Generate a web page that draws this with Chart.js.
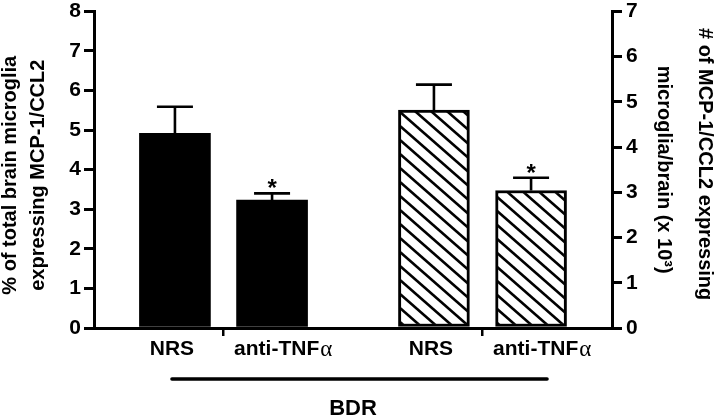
<!DOCTYPE html>
<html>
<head>
<meta charset="utf-8">
<script src="https://cdn.jsdelivr.net/npm/chart.js"></script>
<style>
  html, body { margin: 0; padding: 0; background: #fff; }
  #wrap { width: 720px; height: 418px; position: relative; }
</style>
</head>
<body>
<div id="wrap"><canvas id="chart"></canvas></div>
<script>
// treatment groups (both under the BDR bracket)
const groupLabels = ['NRS', 'anti-TNFα'];
// left axis: % of total brain microglia expressing MCP-1/CCL2
const pctValues = [4.92, 3.23];
const pctErrors = [0.67, 0.17];
// right axis: # of MCP-1/CCL2 expressing microglia/brain (x 10^3)
const countValues = [4.82, 3.04];
const countErrors = [0.56, 0.28];
const significant = [false, true];
const pctAxisMax = 8;
const countAxisMax = 7;

// x axis is split in equal slots, the bars sit in some of them
const slotCount = 16;
const pctSlots = [2, 5];
const countSlots = [10, 13];

const FONT = '"Liberation Sans", Arial, sans-serif';

function toSlots(values, slots) {
    const out = new Array(slotCount).fill(null);
    slots.forEach((s, i) => { out[s] = values[i]; });
    return out;
}

const slotLabels = new Array(slotCount).fill('');
pctSlots.forEach((s, i) => { slotLabels[s] = groupLabels[i]; });
countSlots.forEach((s, i) => { slotLabels[s] = groupLabels[i]; });

// diagonal hatch for the second series
function makeHatch() {
    const w = 16, h = 14;
    const c = document.createElement('canvas');
    c.width = w; c.height = h;
    const g = c.getContext('2d');
    g.fillStyle = '#fff';
    g.fillRect(0, 0, w, h);
    g.strokeStyle = '#000';
    g.lineWidth = 2.6;
    for (let k = -1; k <= 1; k++) {
        g.beginPath();
        g.moveTo(k * w - w, -h);
        g.lineTo(k * w + 2 * w, 2 * h);
        g.stroke();
    }
    return g.createPattern(c, 'repeat');
}

const decor = {
    id: 'decor',
    afterDatasetsDraw(chart) {
        const ctx = chart.ctx;
        chart.data.datasets.forEach((ds, di) => {
            const meta = chart.getDatasetMeta(di);
            const scale = chart.scales[ds.yAxisID];
            ds.data.forEach((v, j) => {
                if (v === null) return;
                const el = meta.data[j];
                const yErr = scale.getPixelForValue(v + ds.errorBars[j]);
                ctx.save();
                ctx.strokeStyle = '#000';
                ctx.lineWidth = 2.6;
                ctx.beginPath();
                ctx.moveTo(el.x, el.y);
                ctx.lineTo(el.x, yErr);
                ctx.moveTo(el.x - 18, yErr);
                ctx.lineTo(el.x + 18, yErr);
                ctx.stroke();
                if (ds.stars[j]) {
                    ctx.fillStyle = '#000';
                    ctx.font = 'bold 24px ' + FONT;
                    ctx.textAlign = 'center';
                    ctx.textBaseline = 'alphabetic';
                    ctx.fillText('*', el.x, yErr + 3);
                }
                ctx.restore();
            });
        });
    },
    afterDraw(chart) {
        const ctx = chart.ctx;
        const xs = chart.scales.x;
        ctx.save();
        ctx.fillStyle = '#000';
        ctx.textBaseline = 'middle';
        chart.data.labels.forEach((lab, i) => {
            if (!lab) return;
            const x = xs.getPixelForValue(i);
            const y = 349;
            if (lab === 'NRS') {
                ctx.font = 'bold 21px ' + FONT;
                ctx.textAlign = 'center';
                ctx.fillText(lab, x - 3, y);
            } else {
                const main = lab.slice(0, -1);
                ctx.font = 'bold 21px ' + FONT;
                ctx.textAlign = 'left';
                const left = x - 38;
                ctx.fillText(main, left, y);
                const wMain = ctx.measureText(main).width;
                ctx.font = '23px "Liberation Serif", serif';
                ctx.fillText(lab.slice(-1), left + wMain + 1, y + 1);
            }
        });
        // BDR bracket
        const x0 = xs.getPixelForValue(pctSlots[0]) - 3;
        const x1 = xs.getPixelForValue(countSlots[1]) + 16;
        ctx.strokeStyle = '#000';
        ctx.lineWidth = 3.5;
        ctx.lineCap = 'round';
        ctx.beginPath();
        ctx.moveTo(x0, 379);
        ctx.lineTo(x1, 379);
        ctx.stroke();
        ctx.font = 'bold 22px ' + FONT;
        ctx.textAlign = 'center';
        const mid = (xs.getPixelForValue(pctSlots[0]) + xs.getPixelForValue(countSlots[1])) / 2;
        ctx.fillText('BDR', mid, 409);
        ctx.restore();
    }
};

const tickFont = { family: FONT, size: 21, weight: 'bold', lineHeight: 0.7 };

const ctx = document.getElementById('chart').getContext('2d');
new Chart(ctx, {
    type: 'bar',
    data: {
        labels: slotLabels,
        datasets: [{
            data: toSlots(pctValues, pctSlots),
            errorBars: toSlots(pctErrors, pctSlots),
            stars: toSlots(significant, pctSlots),
            yAxisID: 'y',
            backgroundColor: '#000',
            borderWidth: 0,
            barThickness: 71,
            grouped: false,
        }, {
            data: toSlots(countValues, countSlots),
            errorBars: toSlots(countErrors, countSlots),
            stars: toSlots(significant, countSlots),
            yAxisID: 'y1',
            backgroundColor: makeHatch(),
            borderColor: '#000',
            borderWidth: 3,
            borderSkipped: false,
            barThickness: 71,
            grouped: false,
        }],
    },
    plugins: [decor],
    options: {
        responsive: true,
        maintainAspectRatio: false,
        animation: false,
        devicePixelRatio: 1,
        layout: { padding: { top: 9, left: 0, right: 0, bottom: 0 } },
        plugins: {
            legend: { display: false },
            tooltip: { enabled: false },
        },
        scales: {
            x: {
                type: 'category',
                offset: true,
                ticks: { display: false },
                grid: {
                    offset: true,
                    drawOnChartArea: false,
                    drawTicks: true,
                    tickLength: 8,
                    lineWidth: 2.5,
                    color: (c) => (c.index === pctSlots[1] - 1 || c.index === countSlots[1] - 1) ? '#000' : 'rgba(0,0,0,0)',
                },
                border: { display: true, color: '#000', width: 3 },
                afterFit: (s) => { s.height = 90; },
            },
            y: {
                position: 'left',
                min: 0,
                max: pctAxisMax,
                ticks: { stepSize: 1, color: '#000', font: tickFont, padding: 3 },
                grid: { drawOnChartArea: false, tickLength: 10, lineWidth: 3, color: '#000' },
                border: { display: true, color: '#000', width: 3 },
                title: {
                    display: true,
                    text: ['% of total brain microglia  ', 'expressing MCP-1/CCL2  '],
                    color: '#000',
                    font: { family: FONT, size: 20, weight: 'bold', lineHeight: 1.4 },
                    padding: { top: -3.5, bottom: 0 },
                },
                afterFit: (s) => { s.width = 94; },
            },
            y1: {
                position: 'right',
                min: 0,
                max: countAxisMax,
                ticks: { stepSize: 1, color: '#000', font: tickFont, padding: 4 },
                grid: { drawOnChartArea: false, tickLength: 10, lineWidth: 3, color: '#000' },
                border: { display: true, color: '#000', width: 3 },
                title: {
                    display: true,
                    text: ['# of MCP-1/CCL2 expressing  ', 'microglia/brain (x 10³)'],
                    color: '#000',
                    font: { family: FONT, size: 20, weight: 'bold', lineHeight: 2.05 },
                    padding: { top: -5.5, bottom: 0 },
                },
                afterFit: (s) => { s.width = 108; },
            },
        },
    },
});
</script>
</body>
</html>
